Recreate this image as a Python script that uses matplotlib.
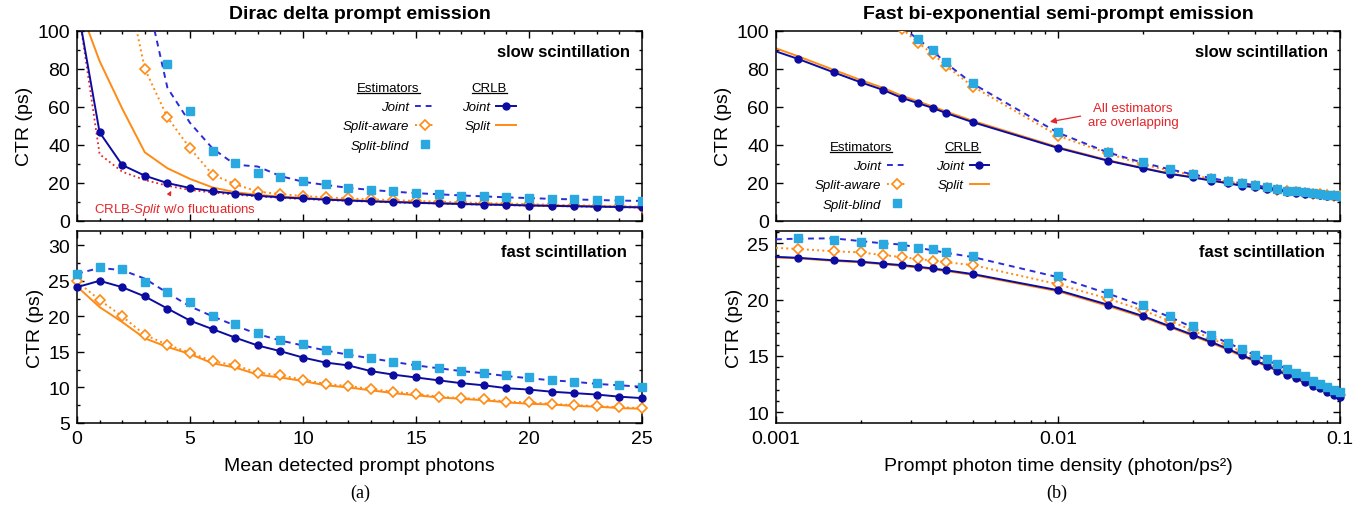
import numpy as np
import matplotlib
matplotlib.use('Agg')
import matplotlib.pyplot as plt
from matplotlib.lines import Line2D
from matplotlib.ticker import MultipleLocator, LogLocator, NullFormatter

plt.rcParams['font.family'] = ['Liberation Sans', 'DejaVu Sans']
plt.rcParams['mathtext.fontset'] = 'custom'
plt.rcParams['mathtext.rm'] = 'Liberation Sans'
plt.rcParams['mathtext.it'] = 'Liberation Sans:italic'

# ---------------- (a) Dirac delta prompt emission ----------------
n_prompt = [0, 1, 2, 3, 4, 5, 6, 7, 8, 9, 10, 11, 12, 13, 14, 15, 16, 17, 18, 19, 20, 21, 22, 23, 24, 25]
nan = np.nan

# slow scintillation
a_slow_joint_est = [nan, nan, nan, 123, 70, 51.5, 38, 29.5, 28.5, 23.5, 20.5, 18.8, 17.3, 16.2, 15.3, 14.5,
                    13.9, 13.3, 12.8, 12.3, 11.9, 11.5, 11.2, 10.9, 10.6, 10.4]
a_slow_aware = [nan, nan, 136, 80, 54.4, 38.1, 24.2, 19.2, 15.3, 14.0, 13.0, 12.3, 11.7, 11.2, 10.8, 10.4,
                10.0, 9.6, 9.3, 9.0, 8.7, 8.4, 8.1, 7.9, 7.6, 7.4]
a_slow_blind = [nan, nan, nan, nan, 82.5, 57.5, 36.8, 30.2, 24.9, 23.2, 20.9, 19.1, 17.3, 16.3, 15.5, 14.6,
                14.0, 13.2, 12.8, 12.3, 11.9, 11.4, 11.4, 10.9, 10.7, 10.4]
a_slow_crlb_joint = [114, 46.5, 29.3, 23.7, 19.8, 17.2, 15.5, 14.2, 13.1, 12.3, 11.7, 11.1, 10.6, 10.2, 9.8, 9.4,
                     9.1, 8.8, 8.5, 8.3, 8.0, 7.8, 7.6, 7.4, 7.2, 7.0]
a_slow_crlb_split = [116, 84, 59, 36, 27.6, 22, 17.5, 15.0, 13.6, 12.7, 12.0, 11.4, 10.9, 10.4, 10.0, 9.6,
                     9.3, 9.0, 8.7, 8.5, 8.2, 8.0, 7.8, 7.6, 7.4, 7.2]
a_slow_crlb_nofluct = [116, 35, 25.8, 21.4, 18.4, 16.2, 14.8, 13.7, 12.8, 12.0, 11.4, 10.9, 10.4, 10.0, 9.6, 9.3,
                       9.0, 8.7, 8.4, 8.2, 7.9, 7.7, 7.5, 7.3, 7.1, 6.9]

# fast scintillation
a_fast_joint_est = [26.0, 26.8, 26.5, 25.3, 23.3, 21.4, 20.0, 18.7, 17.5, 16.6, 15.9, 15.2, 14.6, 14.1, 13.6, 13.1,
                    12.7, 12.3, 12.0, 11.6, 11.3, 11.0, 10.8, 10.5, 10.3, 10.1]
a_fast_aware = [24.9, 22.3, 20.0, 17.4, 16.0, 14.9, 13.7, 13.1, 12.1, 11.7, 11.1, 10.5, 10.2, 9.8, 9.4, 9.1,
                8.7, 8.5, 8.4, 8.0, 7.9, 7.7, 7.5, 7.4, 7.2, 7.1]
a_fast_blind = [26.0, 26.9, 26.6, 24.8, 23.4, 22.0, 20.0, 18.9, 17.6, 16.7, 16.1, 15.2, 14.8, 14.2, 13.6, 13.2,
                12.8, 12.3, 12.1, 11.7, 11.4, 11.1, 10.8, 10.6, 10.4, 10.1]
a_fast_crlb_joint = [24.1, 25.0, 24.1, 22.8, 21.1, 19.4, 18.2, 17.0, 15.9, 15.1, 14.2, 13.5, 13.1, 12.3, 11.8, 11.4,
                     11.0, 10.6, 10.3, 9.9, 9.7, 9.4, 9.2, 9.0, 8.7, 8.5]
a_fast_crlb_split = [24.2, 21.3, 19.2, 16.9, 15.7, 14.7, 13.4, 12.8, 11.8, 11.4, 10.9, 10.3, 10.0, 9.6, 9.2, 8.9,
                     8.6, 8.4, 8.2, 7.9, 7.7, 7.6, 7.4, 7.3, 7.1, 7.0]

# ---------------- (b) Fast bi-exponential semi-prompt emission ----------------
density = [0.001, 0.0012, 0.0016, 0.002, 0.0024, 0.0028, 0.0032, 0.0036, 0.004, 0.005,
           0.01, 0.015, 0.02, 0.025, 0.03, 0.035, 0.04, 0.045, 0.05, 0.055,
           0.06, 0.065, 0.07, 0.075, 0.08, 0.085, 0.09, 0.095, 0.1]

b_slow_joint_est = [nan, nan, nan, nan, nan, 101.6, 95.4, 89.4, 83.0, 72.0,
                    46.3, 36.0, 30.5, 27.0, 24.4, 22.4, 20.8, 19.7, 18.7, 17.6,
                    16.7, 15.9, 15.4, 14.9, 14.4, 14.0, 13.7, 13.4, 13.2]
b_slow_aware = [nan, nan, nan, nan, nan, 101, 93.5, 87.7, 81.6, 70.5,
                44.7, 35.5, 29.5, 26.4, 24.0, 22.0, 20.5, 19.4, 18.4, 17.3,
                16.4, 15.6, 15.2, 14.6, 14.2, 13.8, 13.5, 13.2, 13.0]
b_slow_blind = [nan, nan, nan, nan, nan, nan, 95.6, 89.8, 83.4, 72.3,
                46.5, 36.3, 30.7, 27.2, 24.6, 22.5, 20.9, 19.8, 18.8, 17.6,
                16.7, 15.8, 15.5, 14.9, 14.4, 14.1, 13.7, 13.5, 13.2]
b_slow_crlb_joint = [89.1, 85.1, 78.1, 72.8, 68.8, 64.6, 61.8, 59.3, 56.7, 51.8,
                     38.3, 31.6, 27.6, 24.6, 22.8, 21.1, 19.7, 18.4, 17.6, 16.7,
                     16.0, 15.3, 14.7, 14.2, 13.9, 13.5, 13.2, 12.8, 12.5]
b_slow_crlb_split = [90.7, 86.5, 79.4, 74.0, 69.9, 65.7, 62.7, 60.1, 57.5, 52.5,
                     38.7, 31.9, 27.8, 24.8, 22.9, 21.2, 19.8, 18.5, 17.6, 16.8,
                     16.0, 15.3, 14.7, 14.2, 13.8, 13.4, 13.1, 12.7, 12.4]

b_fast_joint_est = [25.36, 25.42, 25.45, 25.2, 25.0, 24.9, 24.6, 24.38, 24.17, 23.78,
                    22.0, 20.55, 19.45, 18.45, 17.55, 16.85, 16.15, 15.6, 15.07, 14.65,
                    14.22, 13.83, 13.45, 13.15, 12.8, 12.5, 12.21, 11.99, 11.76]
b_fast_aware = [24.6, 24.5, 24.3, 24.2, 23.96, 23.78, 23.6, 23.48, 23.33, 23.07,
                21.37, 20.1, 19.06, 18.1, 17.27, 16.53, 15.94, 15.35, 14.81, 14.4,
                14.0, 13.56, 13.26, 12.9, 12.61, 12.32, 12.02, 11.78, 11.54]
b_fast_blind = [nan, 25.45, 25.27, 25.15, 24.94, 24.73, 24.6, 24.5, 24.23, 23.84,
                22.12, 20.63, 19.56, 18.52, 17.63, 16.89, 16.18, 15.64, 15.11, 14.69,
                14.25, 13.86, 13.48, 13.18, 12.82, 12.52, 12.23, 12.01, 11.78]
b_fast_crlb_joint = [23.8, 23.72, 23.5, 23.37, 23.2, 23.07, 22.92, 22.77, 22.62, 22.27,
                     20.84, 19.56, 18.55, 17.63, 16.89, 16.24, 15.64, 15.05, 14.6, 14.15,
                     13.71, 13.32, 13.03, 12.67, 12.37, 12.14, 11.84, 11.57, 11.34]
b_fast_crlb_split = [23.75, 23.67, 23.45, 23.32, 23.15, 23.0, 22.85, 22.7, 22.55, 22.2,
                     20.75, 19.45, 18.45, 17.55, 16.8, 16.15, 15.55, 14.97, 14.52, 14.08,
                     13.65, 13.26, 12.96, 12.6, 12.3, 12.07, 11.78, 11.5, 11.27]

C_JOINT_EST = '#2b2bd8'
C_CRLB_JOINT = '#0c0ca0'
C_ORANGE = '#ff8a14'
C_BLIND = '#2aa8e0'
C_RED = '#e4262a'
LW = 1.4

fig = plt.figure(figsize=(13.55, 5.06), dpi=100)
W, H = 1355.0, 506.0


def box(l, t, r, b):
    return [l / W, 1 - b / H, (r - l) / W, (b - t) / H]


ax_a1 = fig.add_axes(box(77, 31.7, 642, 221.7))
ax_a2 = fig.add_axes(box(77, 232, 642, 424))
ax_b1 = fig.add_axes(box(776, 31.7, 1340, 221.7))
ax_b2 = fig.add_axes(box(776, 232, 1340, 424))


def draw_series(ax, x, joint_est, aware, blind, crlb_joint, crlb_split, clip, every):
    ax.plot(x, crlb_split, color=C_ORANGE, lw=LW, clip_on=clip, zorder=2)
    ax.plot(x, aware, color=C_ORANGE, lw=LW, ls=':', marker='D', ms=5, mfc='white',
            mec=C_ORANGE, mew=1.2, markevery=every, clip_on=clip, zorder=3)
    ax.plot(x, joint_est, color=C_JOINT_EST, lw=LW, ls=(0, (3, 2.5)), clip_on=clip, zorder=3)
    ax.plot(x, crlb_joint, color=C_CRLB_JOINT, lw=LW, marker='o', ms=5, markevery=every,
            clip_on=clip, zorder=4)
    ax.plot(x, blind, ls='none', marker='s', ms=5.5, color=C_BLIND, clip_on=clip, zorder=5)


draw_series(ax_a1, n_prompt, a_slow_joint_est, a_slow_aware, a_slow_blind,
            a_slow_crlb_joint, a_slow_crlb_split, True, None)
ax_a1.plot(n_prompt, a_slow_crlb_nofluct, color=C_RED, lw=1.3, ls=':', zorder=3)
draw_series(ax_a2, n_prompt, a_fast_joint_est, a_fast_aware, a_fast_blind,
            a_fast_crlb_joint, a_fast_crlb_split, False, None)
draw_series(ax_b1, density, b_slow_joint_est, b_slow_aware, b_slow_blind,
            b_slow_crlb_joint, b_slow_crlb_split, True, slice(1, None))
draw_series(ax_b2, density, b_fast_joint_est, b_fast_aware, b_fast_blind,
            b_fast_crlb_joint, b_fast_crlb_split, False, slice(1, None))

for ax in (ax_a1, ax_a2, ax_b1, ax_b2):
    ax.tick_params(which='both', direction='in', top=True, right=True, labelsize=14, width=1)
    ax.tick_params(which='major', length=5, pad=5)
    ax.tick_params(which='minor', length=2.5)
    for s in ax.spines.values():
        s.set_linewidth(1.1)
    ax.set_ylabel('CTR (ps)', fontsize=14, labelpad=3)

for ax in (ax_a1, ax_a2):
    ax.set_xlim(0, 25)
    ax.xaxis.set_major_locator(MultipleLocator(5))
    ax.xaxis.set_minor_locator(MultipleLocator(1))

for ax in (ax_b1, ax_b2):
    ax.set_xscale('log')
    ax.set_xlim(0.001, 0.1)
    ax.set_xticks([0.001, 0.01, 0.1], labels=['0.001', '0.01', '0.1'])
    ax.xaxis.set_minor_locator(LogLocator(base=10, subs=np.arange(2, 10)))
    ax.xaxis.set_minor_formatter(NullFormatter())

for ax in (ax_a1, ax_b1):
    ax.set_ylim(0, 100)
    ax.yaxis.set_major_locator(MultipleLocator(20))
    ax.yaxis.set_minor_locator(MultipleLocator(10))
    ax.tick_params(labelbottom=False)
    ax.text(0.979, 0.893, 'slow scintillation', transform=ax.transAxes, ha='right', va='center',
            fontsize=12, fontweight='bold')

ax_a2.set_ylim(5, 32)
ax_a2.set_yticks([5, 10, 15, 20, 25, 30])
ax_a2.yaxis.set_minor_locator(MultipleLocator(2.5))
ax_b2.set_ylim(9.05, 26.1)
ax_b2.set_yticks([10, 15, 20, 25])
ax_b2.yaxis.set_minor_locator(MultipleLocator(1))
for ax in (ax_a2, ax_b2):
    ax.text(0.973, 0.894, 'fast scintillation', transform=ax.transAxes, ha='right', va='center',
            fontsize=12, fontweight='bold')

ax_a1.set_title('Dirac delta prompt emission', fontsize=14, fontweight='bold', pad=9)
ax_b1.set_title('Fast bi-exponential semi-prompt emission', fontsize=14, fontweight='bold', pad=9)
ax_a2.set_xlabel('Mean detected prompt photons', fontsize=14, labelpad=7)
ax_b2.set_xlabel('Prompt photon time density (photon/ps²)', fontsize=14, labelpad=7)

# annotations
ax_a1.annotate('', xy=(4.23, 17.0), xytext=(4.03, 12.6),
               arrowprops=dict(arrowstyle='-|>', color=C_RED, lw=0.8, mutation_scale=6))
ax_a1.text(0.77, 6.2, r'CRLB-$\mathit{Split}$ w/o fluctuations', color=C_RED, fontsize=9.5,
           ha='left', va='center')
ax_b1.annotate('', xy=(0.00915, 51.8), xytext=(0.0123, 55.3),
               arrowprops=dict(arrowstyle='-|>', color=C_RED, lw=0.9, mutation_scale=9))
ax_b1.text(0.01845, 55.6, 'All estimators\nare overlapping', color=C_RED, fontsize=9.5,
           ha='center', va='center', linespacing=1.3)

# gnuplot-like legends
est_handles = [
    Line2D([], [], color=C_JOINT_EST, lw=LW, ls=(0, (3, 2.5))),
    Line2D([], [], color=C_ORANGE, lw=LW, ls=':', marker='D', ms=5, mfc='white', mec=C_ORANGE, mew=1.2),
    Line2D([], [], ls='none', marker='s', ms=5.5, color=C_BLIND),
]
crlb_handles = [
    Line2D([], [], color=C_CRLB_JOINT, lw=LW, marker='o', ms=5),
    Line2D([], [], color=C_ORANGE, lw=LW),
]
leg_kw = dict(frameon=False, markerfirst=False, loc='upper left', borderpad=0, borderaxespad=0,
              handlelength=1.5, handletextpad=0.45, labelspacing=0.53, numpoints=1,
              prop=dict(family='Liberation Sans', style='italic', size=9.5),
              title_fontproperties=dict(family='Liberation Sans', size=9.5))

legends = []
for ax, pos_est, pos_crlb in ((ax_a1, (0.470, 0.73), (0.682, 0.73)),
                              (ax_b1, (0.069, 0.42), (0.283, 0.42))):
    l1 = ax.legend(est_handles, ['Joint', 'Split-aware', 'Split-blind'], title='Estimators',
                   bbox_to_anchor=pos_est, **leg_kw)
    ax.add_artist(l1)
    l2 = ax.legend(crlb_handles, ['Joint', 'Split'], title='CRLB', bbox_to_anchor=pos_crlb, **leg_kw)
    legends += [l1, l2]

fig.canvas.draw()
inv = fig.transFigure.inverted()
for leg in legends:
    bb = leg.get_title().get_window_extent()
    (x0, y0), (x1, _) = inv.transform([(bb.x0, bb.y0 + 1), (bb.x1, bb.y0)])
    fig.add_artist(Line2D([x0, x1], [y0, y0], transform=fig.transFigure, color='black', lw=0.9))

fig.text(360 / W, 1 - 493 / H, '(a)', family='Liberation Serif', fontsize=13, ha='center', va='center')
fig.text(1057 / W, 1 - 493 / H, '(b)', family='Liberation Serif', fontsize=13, ha='center', va='center')

fig.savefig('out.png', dpi=100)
